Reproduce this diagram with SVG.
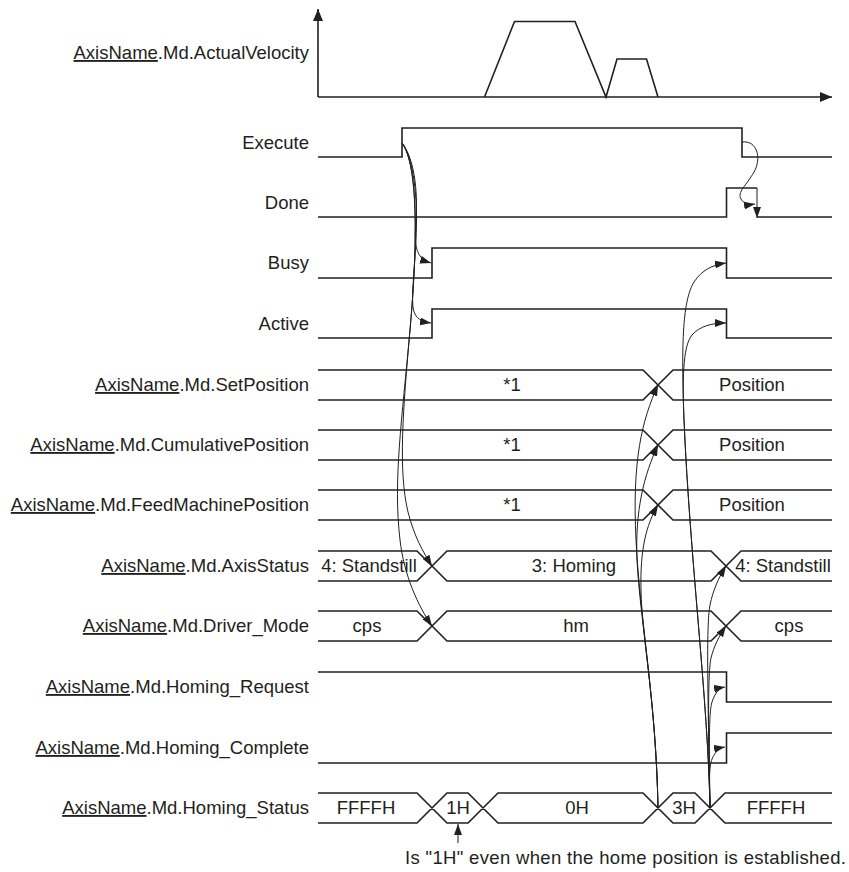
<svg xmlns="http://www.w3.org/2000/svg" width="849" height="872" viewBox="0 0 849 872">
<defs>
<marker id="ah" viewBox="0 0 11 8" refX="11" refY="4" markerWidth="11" markerHeight="8" markerUnits="userSpaceOnUse" orient="auto">
<path d="M0,0 L11,4 L0,8 Z" fill="#231f20"/>
</marker>
<marker id="ax" viewBox="0 0 12 10" refX="12" refY="5" markerWidth="12" markerHeight="10" markerUnits="userSpaceOnUse" orient="auto">
<path d="M0,0 L12,5 L0,10 Z" fill="#231f20"/>
</marker>
</defs>
<style>
text{font-family:"Liberation Sans",Arial,sans-serif;font-size:18.5px;fill:#231f20}
.lb{text-anchor:end}
.v{text-anchor:middle}
.sig{fill:none;stroke:#231f20;stroke-width:1.6}
.con{fill:none;stroke:#231f20;stroke-width:1;marker-end:url(#ah)}
.u{text-decoration:underline}
</style>
<g id="velocity">
<text class="lb" x="309" y="59"><tspan class="u">AxisName</tspan>.Md.ActualVelocity</text>
<path class="sig" d="M318,97 V9" marker-end="url(#ax)"/>
<path class="sig" d="M318,97 H832" marker-end="url(#ax)"/>
<path class="sig" d="M484.5,97 L514.5,21.5 H575 L606,97 L617,59 H646.5 L658,97"/>
</g>
<g id="execute">
<text class="lb" x="309" y="149">Execute</text>
<path class="sig" d="M318,157 H402 V128 H742 V157 H832"/>
</g>
<g id="done">
<text class="lb" x="309" y="209">Done</text>
<path class="sig" d="M318,217 H726.5 V188 H757 M757,217 H832"/>
</g>
<g id="busy">
<text class="lb" x="309" y="269">Busy</text>
<path class="sig" d="M318,278 H432 V248 H726.5 V278 H832"/>
</g>
<g id="active">
<text class="lb" x="309" y="330">Active</text>
<path class="sig" d="M318,338 H432 V309 H726.5 V338 H832"/>
</g>
<g id="setposition">
<text class="lb" x="309" y="391"><tspan class="u">AxisName</tspan>.Md.SetPosition</text>
<path class="sig" d="M318,370 H643 L673,400 H832 M318,400 H643 L673,370 H832"/>
<text class="v" x="512" y="391">*1</text>
<text class="v" x="752" y="391">Position</text>
</g>
<g id="cumulativeposition">
<text class="lb" x="309" y="451"><tspan class="u">AxisName</tspan>.Md.CumulativePosition</text>
<path class="sig" d="M318,430 H643 L673,460 H832 M318,460 H643 L673,430 H832"/>
<text class="v" x="512" y="451">*1</text>
<text class="v" x="752" y="451">Position</text>
</g>
<g id="feedmachineposition">
<text class="lb" x="309" y="511"><tspan class="u">AxisName</tspan>.Md.FeedMachinePosition</text>
<path class="sig" d="M318,490 H643 L673,520 H832 M318,520 H643 L673,490 H832"/>
<text class="v" x="512" y="511">*1</text>
<text class="v" x="752" y="511">Position</text>
</g>
<g id="axisstatus">
<text class="lb" x="309" y="572"><tspan class="u">AxisName</tspan>.Md.AxisStatus</text>
<path class="sig" d="M318,551 H417 L447,581 H711 L741,551 H832 M318,581 H417 L447,551 H711 L741,581 H832"/>
<text class="v" x="369" y="572">4: Standstill</text>
<text class="v" x="574" y="572">3: Homing</text>
<text class="v" x="783" y="572">4: Standstill</text>
</g>
<g id="drivermode">
<text class="lb" x="309" y="632"><tspan class="u">AxisName</tspan>.Md.Driver_Mode</text>
<path class="sig" d="M318,611 H417 L447,641 H711 L741,611 H832 M318,641 H417 L447,611 H711 L741,641 H832"/>
<text class="v" x="367" y="632">cps</text>
<text class="v" x="576" y="632">hm</text>
<text class="v" x="789" y="632">cps</text>
</g>
<g id="homingrequest">
<text class="lb" x="309" y="693"><tspan class="u">AxisName</tspan>.Md.Homing_Request</text>
<path class="sig" d="M318,672 H726.5 V702 H832"/>
</g>
<g id="homingcomplete">
<text class="lb" x="309" y="754"><tspan class="u">AxisName</tspan>.Md.Homing_Complete</text>
<path class="sig" d="M318,763 H726.5 V733 H832"/>
</g>
<g id="homingstatus">
<text class="lb" x="309" y="814"><tspan class="u">AxisName</tspan>.Md.Homing_Status</text>
<path class="sig" d="M318,793 H417 L447,823 H468 L498,793 H643 L673,823 H695 L725,793 H832 M318,823 H417 L447,793 H468 L498,823 H643 L673,793 H695 L725,823 H832"/>
<text class="v" x="366" y="814">FFFFH</text>
<text class="v" x="458" y="814">1H</text>
<text class="v" x="577" y="814">0H</text>
<text class="v" x="684" y="814">3H</text>
<text class="v" x="776" y="814">FFFFH</text>
</g>
<g id="note">
<text x="405" y="864" textLength="441" lengthAdjust="spacing">Is "1H" even when the home position is established.</text>
</g>
<g id="connectors">
<path class="con" d="M402,143 C414,158 418,190 416,220 C414,245 415,258 431,263"/>
<path class="con" d="M402,143 C414,158 418,200 416,240 C414,280 410,305 415,314 C418,320 424,322 431,323"/>
<path class="con" d="M402,143 C418,165 418,240 410,330 C403,410 398,470 408,512 C414,536 423,552 432,566"/>
<path class="con" d="M402,143 C418,165 418,240 410,330 C402,420 393,480 400,540 C404,575 418,606 432,626"/>
<path class="con" d="M742,142 C757,140 762,158 754,172 C746,186 737,192 741,199 C744,204 748,205 755,204"/>
<path class="con" d="M757,188 V218"/>
<path class="con" d="M658,808 C656,700 640,620 636,540 C632,460 642,420 658,385"/>
<path class="con" d="M658,808 C656,700 640,620 637,560 C635,510 644,475 658,445"/>
<path class="con" d="M658,808 C656,700 642,640 641,590 C640,550 646,525 658,505"/>
<path class="con" d="M710,808 C708,700 690,560 684,420 C681,340 683,300 694,282 C702,270 712,265 726,263"/>
<path class="con" d="M710,808 C708,700 690,560 684,420 C682,370 684,345 692,335 C700,326 712,323 726,323"/>
<path class="con" d="M710,808 C708,700 706,625 710,605 C713,590 719,577 726,566"/>
<path class="con" d="M710,808 C708,720 708,672 711,658 C714,646 719,636 726,626"/>
<path class="con" d="M710,808 C709,740 709,712 712,702 C715,693 719,688 725,687"/>
<path class="con" d="M710,808 C709,782 709,767 712,759 C715,752 719,748 725,747"/>
<path class="con" d="M458,843 V824"/>
</g>
</svg>
